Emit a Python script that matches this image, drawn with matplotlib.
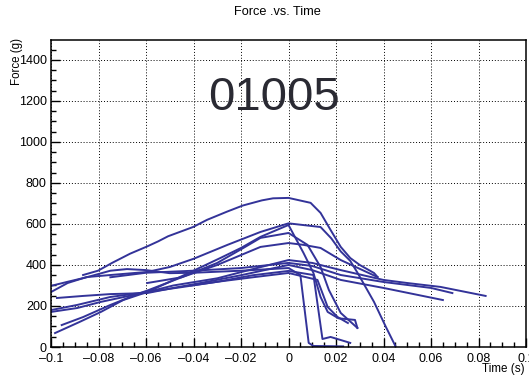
import matplotlib
matplotlib.use("Agg")
import matplotlib.pyplot as plt
from matplotlib.ticker import MultipleLocator, FixedLocator

plt.rcParams['font.family'] = ['Liberation Sans', 'DejaVu Sans']

# x tick values / labels
xticks = [-0.1, -0.08, -0.06, -0.04, -0.02, 0, 0.02, 0.04, 0.06, 0.08, 0.1]
xlabels = ['\u20130.1', '\u20130.08', '\u20130.06', '\u20130.04', '\u20130.02', '0',
           '0.02', '0.04', '0.06', '0.08', '0.1']
yticks = [0, 200, 400, 600, 800, 1000, 1200, 1400]

# curves (time in s, force in g)
t1 = [-0.0865, -0.0802, -0.0743, -0.0667, -0.0596, -0.0549, -0.0507, -0.0402, -0.0343,
      -0.0259, -0.0192, -0.0112, -0.0065, 0.0, 0.0093, 0.0135, 0.0177, 0.022, 0.026, 0.030,
      0.036, 0.0375]
f1 = [351, 372, 410, 455, 490, 515, 540, 585, 620, 660, 690, 715, 725, 727, 703, 654, 571,
      488, 434, 400, 361, 341]

t2 = [-0.1, -0.093, -0.085, -0.075, -0.0595, -0.05, -0.04, -0.0257, -0.0118, 0.0, 0.0135,
      0.018, 0.022, 0.026, 0.029, 0.036, 0.041, 0.045]
f2 = [268, 312, 341, 351, 366, 390, 430, 498, 561, 603, 585, 530, 466, 420, 363, 220, 98, 5]

t3 = [-0.1, -0.093, -0.085, -0.075, -0.068, -0.06, -0.05, -0.04, -0.02, 0.0, 0.005,
      0.0085, 0.0105, 0.023]
f3 = [298, 318, 340, 372, 380, 375, 360, 362, 372, 385, 351, 20, 5, 3]

t4 = [-0.0955, -0.0865, -0.075, -0.0625, -0.0595, -0.045, -0.03, -0.019, -0.0118, 0.0,
      0.008, 0.0135, 0.017, 0.022, 0.029]
f4 = [107, 146, 205, 263, 275, 340, 410, 483, 532, 556, 498, 390, 278, 166, 93]

t5 = [-0.0983, -0.088, -0.079, -0.0696, -0.0595, -0.05, -0.04, -0.0287, -0.020, -0.0118,
      0.0, 0.0063, 0.0105, 0.0135, 0.0165, 0.021, 0.028, 0.029]
f5 = [68, 122, 171, 229, 268, 318, 372, 434, 483, 537, 595, 459, 361, 244, 171, 140, 132, 93]

t6 = [-0.0595, -0.045, -0.03, -0.0118, 0.0, 0.0063, 0.0135, 0.022, 0.0375]
f6 = [312, 340, 400, 488, 507, 498, 483, 424, 341]

t7 = [-0.0975, -0.0865, -0.075, -0.0595, -0.0485, -0.037, -0.02, 0.0, 0.01, 0.022, 0.040,
      0.065]
f7 = [239, 249, 258, 263, 288, 312, 350, 400, 375, 327, 288, 229]

t8 = [-0.1, -0.089, -0.075, -0.0595, -0.0485, -0.03, -0.015, 0.0, 0.01, 0.022, 0.040,
      0.050, 0.064, 0.083]
f8 = [180, 205, 244, 268, 300, 335, 380, 424, 410, 375, 327, 312, 293, 249]

t9 = [-0.1, -0.089, -0.079, -0.0595, -0.045, -0.03, -0.015, 0.0, 0.0105, 0.0143, 0.0177,
      0.026]
f9 = [171, 190, 220, 268, 292, 318, 350, 371, 351, 39, 49, 20]

t10 = [-0.041, -0.03, -0.015, 0.0, 0.0122, 0.0165, 0.0207, 0.025]
f10 = [300, 318, 340, 361, 327, 195, 146, 117]

t11 = [-0.075, -0.06, -0.04, -0.02, 0.0, 0.01, 0.022, 0.040, 0.060, 0.069]
f11 = [340, 362, 372, 385, 410, 395, 351, 317, 288, 263]

curves = [(t1, f1), (t2, f2), (t3, f3), (t4, f4), (t5, f5), (t6, f6), (t7, f7),
          (t8, f8), (t9, f9), (t10, f10), (t11, f11)]

fig = plt.figure(figsize=(5.29, 3.75), dpi=100)
ax = fig.add_axes([51 / 529, 1 - 347 / 375, 475 / 529, 307 / 375])

for t, f in curves:
    ax.plot(t, f, color='#333399', lw=1.4)

ax.set_xlim(-0.1, 0.1)
ax.set_ylim(0, 1497)

ax.xaxis.set_major_locator(FixedLocator(xticks))
ax.set_xticklabels(xlabels)
ax.xaxis.set_minor_locator(MultipleLocator(0.005))
ax.yaxis.set_major_locator(FixedLocator(yticks))
ax.yaxis.set_minor_locator(MultipleLocator(50))

ax.tick_params(which='both', direction='in', top=False, right=False, labelsize=9,
               width=1.0, color='black')
ax.tick_params(which='major', length=6.5, pad=3)
ax.tick_params(axis='x', which='major', pad=4)
ax.tick_params(which='minor', length=3.5)

ax.grid(True, which='major', color='black', linestyle=(0, (1, 2)), lw=0.7)
for s in ax.spines.values():
    s.set_linewidth(1.1)

fig.text(277 / 529, 1 - 12 / 375, 'Force .vs. Time', ha='center', va='center', fontsize=9.2)
fig.text(17 / 529, 1 - 38 / 375, 'Force (g)', ha='center', va='top', rotation=90, fontsize=8.3)
fig.text(525 / 529, 1 - 369 / 375, 'Time (s)', ha='right', va='center', fontsize=8.4)
fig.text(274 / 529, 1 - 110 / 375, '01005', ha='center', va='baseline', fontsize=34,
         color='#2a2a33')

fig.savefig('out.png', dpi=100)
